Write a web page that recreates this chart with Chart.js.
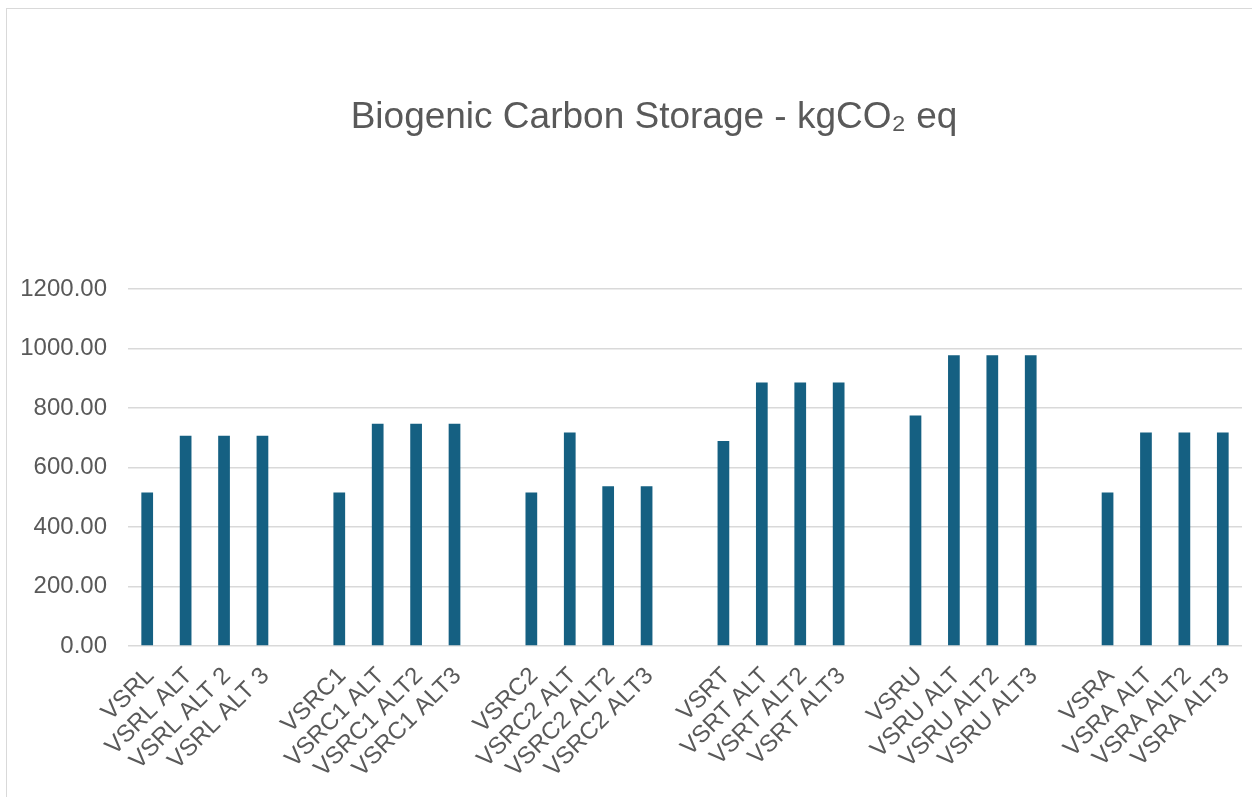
<!DOCTYPE html>
<html>
<head>
<meta charset="utf-8">
<title>Biogenic Carbon Storage</title>
<script src="https://cdn.jsdelivr.net/npm/chart.js@4"></script>
<style>
  html, body { margin: 0; padding: 0; background: #fff; overflow: hidden; }
  #wrap { position: relative; width: 1252px; height: 797px; }
  #frame {
    position: absolute; left: 6px; top: 8px; width: 1300px; height: 850px;
    border: 1.5px solid #d9d9d9; box-sizing: border-box; pointer-events: none;
  }
  #chart { position: absolute; left: 0; top: 0; }
</style>
</head>
<body>
<div id="wrap">
  <div id="frame"></div>
  <canvas id="chart" width="1252" height="797"></canvas>
</div>
<script>
// Scenario labels; blank entries leave the gap between groups
const categories = [
  "VSRL", "VSRL ALT", "VSRL ALT 2", "VSRL ALT 3", "",
  "VSRC1", "VSRC1 ALT", "VSRC1 ALT2", "VSRC1 ALT3", "",
  "VSRC2", "VSRC2 ALT", "VSRC2 ALT2", "VSRC2 ALT3", "",
  "VSRT", "VSRT ALT", "VSRT ALT2", "VSRT ALT3", "",
  "VSRU", "VSRU ALT", "VSRU ALT2", "VSRU ALT3", "",
  "VSRA", "VSRA ALT", "VSRA ALT2", "VSRA ALT3",
];

// Biogenic carbon stored, kgCO2 eq
const storage = [
  516, 707, 707, 707, null,
  516, 747, 747, 747, null,
  516, 718, 537, 537, null,
  689, 886, 886, 886, null,
  775, 977, 977, 977, null,
  516, 718, 718, 718,
];

const yTicks = [0, 200, 400, 600, 800, 1000, 1200];

const chartTitle = "Biogenic Carbon Storage - kgCO\u2082 eq";

const TEXT = "#595959";
const GRID = "#d9d9d9";
const FONT = "'Liberation Sans', Arial, sans-serif";

// Title is centred on the outer frame rather than on the canvas
const frameTitle = {
  id: "frameTitle",
  afterDraw(chart) {
    const ctx = chart.ctx;
    ctx.save();
    ctx.fillStyle = TEXT;
    ctx.font = "37px " + FONT;
    ctx.textAlign = "center";
    ctx.textBaseline = "middle";
    ctx.fillText(chartTitle, 654, 118);
    ctx.restore();
  },
};

new Chart(document.getElementById("chart"), {
  type: "bar",
  data: {
    labels: categories,
    datasets: [
      {
        label: "Biogenic Carbon Storage",
        data: storage,
        backgroundColor: "#156082",
        barPercentage: 0.305,
        categoryPercentage: 1.0,
      },
    ],
  },
  options: {
    responsive: false,
    animation: false,
    layout: { padding: { left: 0, right: 0, top: 289, bottom: 0 } },
    plugins: {
      legend: { display: false },
      tooltip: { enabled: false },
      title: { display: false },
    },
    scales: {
      x: {
        grid: { display: false, drawTicks: false },
        border: { display: false },
        ticks: {
          color: TEXT,
          font: { family: FONT, size: 24 },
          autoSkip: false,
          minRotation: 45,
          maxRotation: 45,
          padding: 16,
          labelOffset: 3,
        },
        afterFit: (scale) => {
          scale.height = 151;
          // fixed plot edges instead of the label-based padding
          scale.paddingLeft = 0;
          scale.paddingRight = 10;
        },
      },
      y: {
        min: 0,
        max: 1200,
        afterBuildTicks: (scale) => { scale.ticks = yTicks.map((v) => ({ value: v })); },
        grid: { color: GRID, lineWidth: 1.5, drawTicks: false },
        border: { display: false },
        ticks: {
          color: TEXT,
          font: { family: FONT, size: 24 },
          padding: 21,
          callback: (v) => Number(v).toFixed(2),
        },
        afterFit: (scale) => { scale.width = 128; },
      },
    },
  },
  plugins: [frameTitle],
});
</script>
</body>
</html>
